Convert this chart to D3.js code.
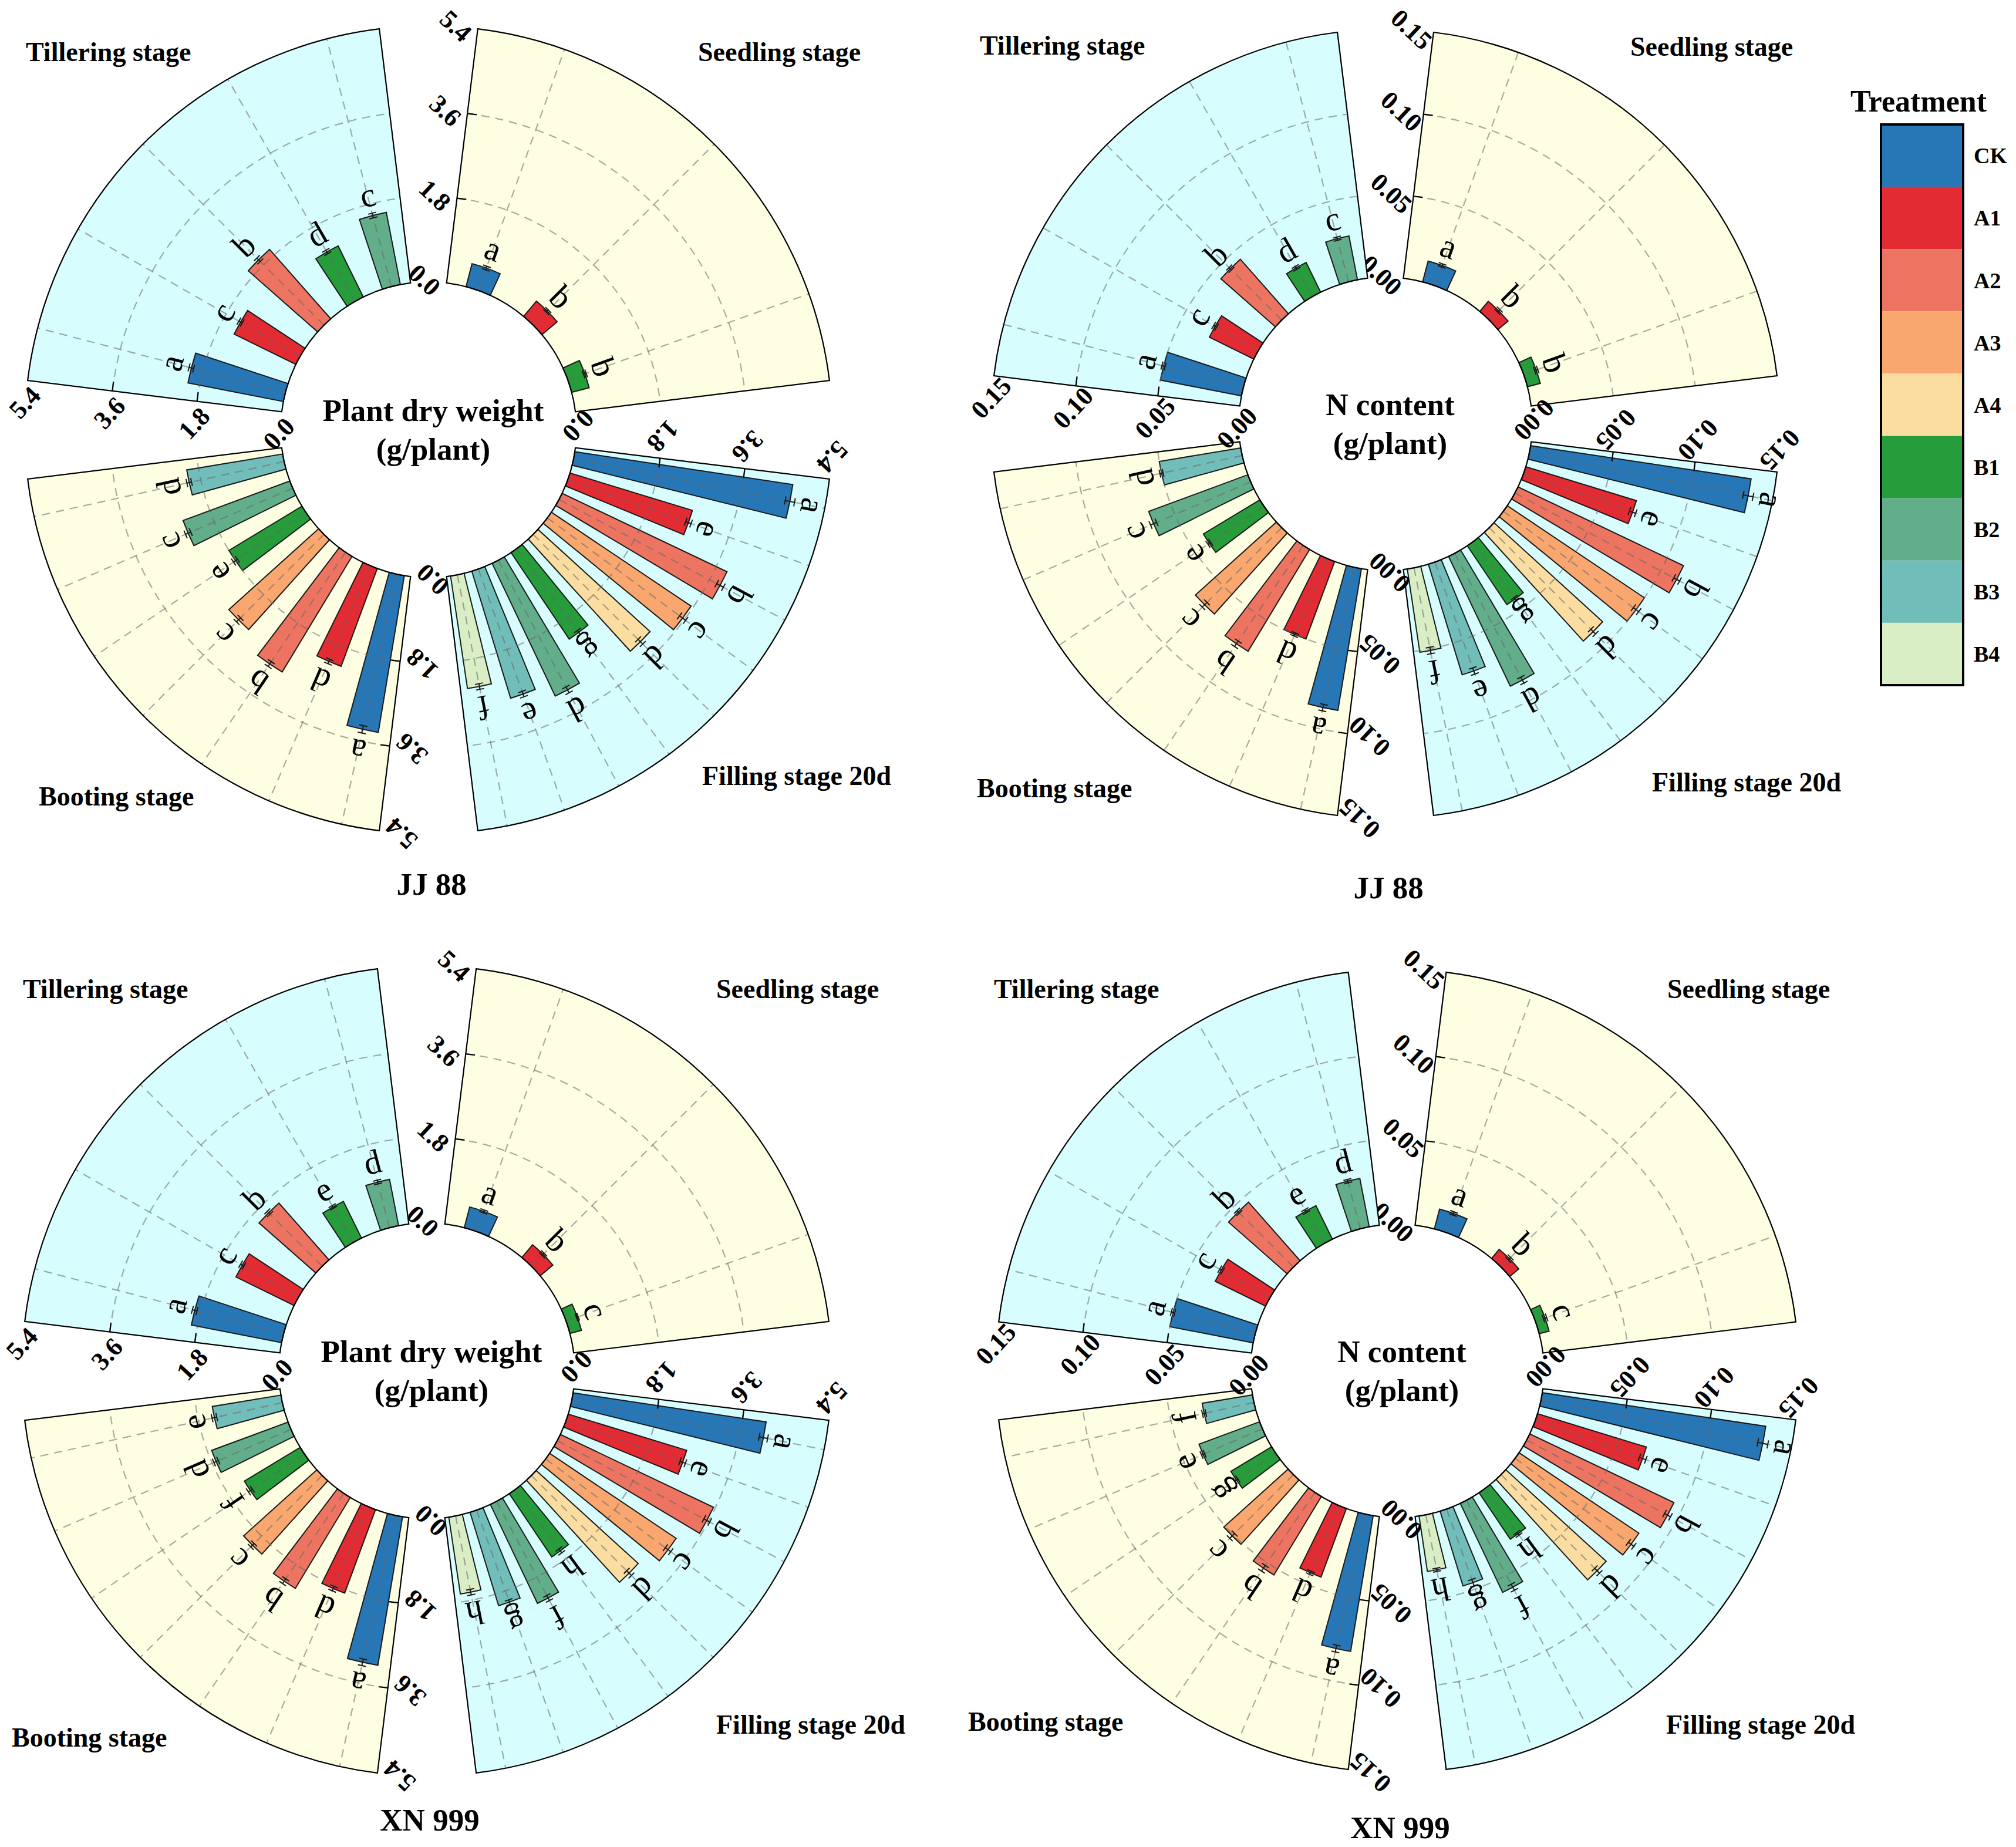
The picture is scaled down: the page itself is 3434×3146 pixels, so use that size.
<!DOCTYPE html>
<html lang="en">
<head>
  <meta charset="UTF-8" />
  <title>Plant dry weight and N content - polar bars</title>
  <script src="https://d3js.org/d3.v7.min.js"></script>
  <style>
    body {
      margin: 0;
      padding: 0;
      background-color: white;
    }

    svg {
      display: block;
      font-family: "Liberation Serif", "Times New Roman", serif;
    }

    .grid {
      fill: none;
      stroke: #666;
      stroke-opacity: 0.55;
      stroke-width: 2.2px;
      stroke-dasharray: 14 10;
    }

    .sector-outline {
      fill: none;
      stroke: black;
      stroke-width: 2.2px;
    }

    .bar {
      stroke: #1a1a1a;
      stroke-width: 2px;
    }

    .err {
      stroke: #1a1a1a;
      stroke-width: 2px;
    }

    .tick {
      stroke: black;
      stroke-width: 2.2px;
    }

    .tick-label {
      font-weight: bold;
      font-size: 44px;
      fill: black;
    }

    .sig {
      font-size: 58px;
      fill: black;
    }

    .stage-label {
      font-weight: bold;
      font-size: 46px;
      fill: black;
    }

    .center-label, .panel-title {
      font-weight: bold;
      font-size: 53px;
      fill: black;
    }

    .legend-title {
      font-weight: bold;
      font-size: 52px;
    }

    .legend-label {
      font-weight: bold;
      font-size: 38px;
    }
  </style>
</head>
<body>
  <svg id="chart" width="3434" height="3146"></svg>

  <script>
    // Treatments and their colours (legend order)
    const treatments = ["CK", "A1", "A2", "A3", "A4", "B1", "B2", "B3", "B4"];
    const treatColors = ["#2777B6", "#E22B33", "#ED7460", "#F9A66F", "#FCDDA1",
                         "#279C3A", "#62AD8A", "#71BDB9", "#D9EEC5"];

    // Stages, drawn clockwise from the top
    const stageNames = ["Seedling stage", "Filling stage 20d", "Booting stage", "Tillering stage"];
    const seedlingTreat  = ["CK", "A1", "B1"];
    const fillingTreat   = ["CK", "A1", "A2", "A3", "A4", "B1", "B2", "B3", "B4"];
    const bootingTreat   = ["CK", "A1", "A2", "A3", "B1", "B2", "B3"];
    const tilleringTreat = ["CK", "A1", "A2", "B1", "B2"];

    // Radial axis ticks
    const dwTicks = [0, 1.8, 3.6, 5.4];
    const nTicks = [0, 0.05, 0.10, 0.15];

    // ---- JJ 88, plant dry weight (g/plant)
    const jjDwSeedling  = [0.50, 0.42, 0.38];
    const jjDwFilling   = [4.65, 2.70, 3.85, 3.55, 3.20, 2.20, 3.10, 2.80, 2.40];
    const jjDwBooting   = [3.35, 2.20, 2.85, 2.55, 1.80, 2.40, 2.05];
    const jjDwTillering = [2.05, 1.45, 1.95, 1.20, 1.55];
    const jjDwSeedlingErr  = [0.04, 0.03, 0.03];
    const jjDwFillingErr   = [0.10, 0.06, 0.08, 0.08, 0.07, 0.05, 0.07, 0.06, 0.06];
    const jjDwBootingErr   = [0.08, 0.05, 0.06, 0.06, 0.05, 0.06, 0.05];
    const jjDwTilleringErr = [0.05, 0.04, 0.05, 0.04, 0.05];
    const jjDwSeedlingSig  = ["a", "b", "b"];
    const jjDwFillingSig   = ["a", "e", "b", "c", "d", "g", "d", "e", "f"];
    const jjDwBootingSig   = ["a", "d", "b", "c", "e", "c", "d"];
    const jjDwTilleringSig = ["a", "c", "b", "d", "c"];

    // ---- JJ 88, N content (g/plant)
    const jjNSeedling  = [0.013, 0.008, 0.008];
    const jjNFilling   = [0.135, 0.070, 0.111, 0.100, 0.089, 0.043, 0.087, 0.070, 0.051];
    const jjNBooting   = [0.087, 0.050, 0.072, 0.066, 0.040, 0.064, 0.050];
    const jjNTillering = [0.050, 0.030, 0.044, 0.020, 0.027];
    const jjNSeedlingErr  = [0.001, 0.001, 0.001];
    const jjNFillingErr   = [0.003, 0.002, 0.002, 0.002, 0.002, 0.001, 0.002, 0.002, 0.002];
    const jjNBootingErr   = [0.002, 0.001, 0.002, 0.002, 0.001, 0.002, 0.001];
    const jjNTilleringErr = [0.001, 0.001, 0.001, 0.001, 0.001];
    const jjNSeedlingSig  = ["a", "b", "b"];
    const jjNFillingSig   = ["a", "e", "b", "c", "d", "g", "d", "e", "f"];
    const jjNBootingSig   = ["a", "d", "b", "c", "e", "c", "d"];
    const jjNTilleringSig = ["a", "c", "b", "d", "c"];

    // ---- XN 999, plant dry weight (g/plant)
    const xnDwSeedling  = [0.45, 0.35, 0.25];
    const xnDwFilling   = [4.10, 2.60, 3.56, 3.20, 2.90, 1.60, 2.30, 2.05, 1.63];
    const xnDwBooting   = [3.16, 1.87, 2.23, 2.07, 1.37, 1.71, 1.46];
    const xnDwTillering = [1.93, 1.36, 1.59, 0.86, 0.99];
    const xnDwSeedlingErr  = [0.03, 0.03, 0.02];
    const xnDwFillingErr   = [0.09, 0.06, 0.07, 0.07, 0.07, 0.05, 0.06, 0.05, 0.06];
    const xnDwBootingErr   = [0.07, 0.05, 0.06, 0.05, 0.05, 0.05, 0.05];
    const xnDwTilleringErr = [0.05, 0.04, 0.04, 0.03, 0.04];
    const xnDwSeedlingSig  = ["a", "b", "c"];
    const xnDwFillingSig   = ["a", "e", "b", "c", "d", "h", "f", "g", "h"];
    const xnDwBootingSig   = ["a", "d", "b", "c", "f", "d", "e"];
    const xnDwTilleringSig = ["a", "c", "b", "e", "d"];

    // ---- XN 999, N content (g/plant)
    const xnNSeedling  = [0.012, 0.007, 0.006];
    const xnNFilling   = [0.133, 0.067, 0.094, 0.085, 0.080, 0.033, 0.058, 0.046, 0.033];
    const xnNBooting   = [0.081, 0.043, 0.054, 0.051, 0.028, 0.038, 0.030];
    const xnNTillering = [0.050, 0.033, 0.046, 0.022, 0.029];
    const xnNSeedlingErr  = [0.001, 0.001, 0.001];
    const xnNFillingErr   = [0.003, 0.002, 0.002, 0.002, 0.002, 0.001, 0.002, 0.002, 0.001];
    const xnNBootingErr   = [0.002, 0.001, 0.002, 0.002, 0.001, 0.001, 0.001];
    const xnNTilleringErr = [0.001, 0.001, 0.001, 0.001, 0.001];
    const xnNSeedlingSig  = ["a", "b", "c"];
    const xnNFillingSig   = ["a", "e", "b", "c", "d", "h", "f", "g", "h"];
    const xnNBootingSig   = ["a", "d", "b", "c", "g", "e", "f"];
    const xnNTilleringSig = ["a", "c", "b", "e", "d"];

    const svg = d3.select("#chart");
    const color = d3.scaleOrdinal().domain(treatments).range(treatColors);

    // sector layout (compass degrees, clockwise from 12 o'clock)
    const stageStart = [7, 97, 187, 277];
    const stageSpan = 76;
    const stageFill = ["#FEFEE3", "#D7FDFE", "#FEFEE3", "#D7FDFE"];
    const stageTreat = [seedlingTreat, fillingTreat, bootingTreat, tilleringTreat];
    const rad = d => d * Math.PI / 180;

    const panels = [
      { cx: 730, cy: 732, r0: 252, r1: 688, max: 5.4, ticks: dwTicks, fmt: ".1f",
        center: ["Plant dry weight", "(g/plant)"], title: "JJ 88", titleY: 1505,
        values: [jjDwSeedling, jjDwFilling, jjDwBooting, jjDwTillering],
        errs: [jjDwSeedlingErr, jjDwFillingErr, jjDwBootingErr, jjDwTilleringErr],
        sigs: [jjDwSeedlingSig, jjDwFillingSig, jjDwBootingSig, jjDwTilleringSig],
        labels: [[1189, 88], [1196, 1321], [66, 1356], [44, 88]] },
      { cx: 2360, cy: 722, r0: 250, r1: 672, max: 0.15, ticks: nTicks, fmt: ".2f",
        center: ["N content", "(g/plant)"], title: "JJ 88", titleY: 1511,
        values: [jjNSeedling, jjNFilling, jjNBooting, jjNTillering],
        errs: [jjNSeedlingErr, jjNFillingErr, jjNBootingErr, jjNTilleringErr],
        sigs: [jjNSeedlingSig, jjNFillingSig, jjNBootingSig, jjNTilleringSig],
        labels: [[2777, 79], [2814, 1332], [1664, 1342], [1669, 77]] },
      { cx: 727, cy: 2335, r0: 252, r1: 690, max: 5.4, ticks: dwTicks, fmt: ".1f",
        center: ["Plant dry weight", "(g/plant)"], title: "XN 999", titleY: 3099,
        values: [xnDwSeedling, xnDwFilling, xnDwBooting, xnDwTillering],
        errs: [xnDwSeedlingErr, xnDwFillingErr, xnDwBootingErr, xnDwTilleringErr],
        sigs: [xnDwSeedlingSig, xnDwFillingSig, xnDwBootingSig, xnDwTilleringSig],
        labels: [[1220, 1684], [1220, 2937], [20, 2959], [39, 1684]] },
      { cx: 2380, cy: 2335, r0: 250, r1: 684, max: 0.15, ticks: nTicks, fmt: ".2f",
        center: ["N content", "(g/plant)"], title: "XN 999", titleY: 3112,
        values: [xnNSeedling, xnNFilling, xnNBooting, xnNTillering],
        errs: [xnNSeedlingErr, xnNFillingErr, xnNBootingErr, xnNTilleringErr],
        sigs: [xnNSeedlingSig, xnNFillingSig, xnNBootingSig, xnNTilleringSig],
        labels: [[2840, 1684], [2838, 2937], [1649, 2932], [1693, 1684]] }
    ];

    function polar(angle, r) {
      return [r * Math.sin(angle), -r * Math.cos(angle)];
    }

    // single open arc (no return stroke), compass angles
    function arcLine(rr, a0, a1) {
      const path = d3.path();
      const [x0, y0] = polar(a0, rr);
      path.moveTo(x0, y0);
      path.arc(0, 0, rr, a0 - Math.PI / 2, a1 - Math.PI / 2);
      return path.toString();
    }

    function drawPanel(p) {
      const g = svg.append("g").attr("transform", `translate(${p.cx},${p.cy})`);
      const r = d3.scaleLinear().domain([0, p.max]).range([p.r0, p.r1]);
      const fmt = d3.format(p.fmt);
      const arc = d3.arc();

      stageNames.forEach((name, si) => {
        const a0 = rad(stageStart[si]);
        const a1 = rad(stageStart[si] + stageSpan);
        const treat = stageTreat[si];
        const rows = treat.map((t, i) => ({
          t, v: p.values[si][i], e: p.errs[si][i], sig: p.sigs[si][i]
        }));
        const band = d3.scaleBand().domain(treat).range([a0, a1]);
        const half = rad(3 + 21 / treat.length) / 2;
        const mid = t => band(t) + band.bandwidth() / 2;
        const sg = g.append("g").attr("class", "stage");

        // sector background
        sg.append("path")
          .attr("d", arc({ innerRadius: p.r0, outerRadius: p.r1, startAngle: a0, endAngle: a1 }))
          .attr("fill", stageFill[si]);

        // bars
        sg.selectAll(".bar")
          .data(rows)
          .join("path")
          .attr("class", "bar")
          .attr("fill", d => color(d.t))
          .attr("d", d => arc({
            innerRadius: p.r0, outerRadius: r(d.v),
            startAngle: mid(d.t) - half, endAngle: mid(d.t) + half
          }));

        // dashed grid: arcs at the inner ticks, radial lines at each treatment
        sg.selectAll(".grid-arc")
          .data(p.ticks.slice(1, -1))
          .join("path")
          .attr("class", "grid")
          .attr("d", v => arcLine(r(v), a0, a1));

        sg.selectAll(".grid-spoke")
          .data(treat)
          .join("line")
          .attr("class", "grid")
          .attr("x1", t => polar(mid(t), p.r0)[0])
          .attr("y1", t => polar(mid(t), p.r0)[1])
          .attr("x2", t => polar(mid(t), p.r1)[0])
          .attr("y2", t => polar(mid(t), p.r1)[1]);

        // sector outline
        sg.append("path")
          .attr("class", "sector-outline")
          .attr("d", arc({ innerRadius: p.r0, outerRadius: p.r1, startAngle: a0, endAngle: a1 }));

        // radial axis on the start edge
        const inward = [Math.cos(a0), Math.sin(a0)];
        const outward = [-Math.cos(a0), -Math.sin(a0)];
        sg.selectAll(".tick")
          .data(p.ticks.slice(1, -1))
          .join("line")
          .attr("class", "tick")
          .attr("x1", v => polar(a0, r(v))[0])
          .attr("y1", v => polar(a0, r(v))[1])
          .attr("x2", v => polar(a0, r(v))[0] + 16 * inward[0])
          .attr("y2", v => polar(a0, r(v))[1] + 16 * inward[1]);

        sg.selectAll(".tick-label")
          .data(p.ticks)
          .join("text")
          .attr("class", "tick-label")
          .attr("text-anchor", "middle")
          .attr("dominant-baseline", "central")
          .attr("transform", v => {
            const [x, y] = polar(a0, r(v));
            return `translate(${x + 38 * outward[0]},${y + 38 * outward[1]}) rotate(${stageStart[si] + 36})`;
          })
          .text(v => fmt(v));

        // error bars and significance letters, in each bar's own frame
        const eg = sg.selectAll(".bar-end")
          .data(rows)
          .join("g")
          .attr("transform", d => `rotate(${mid(d.t) * 180 / Math.PI})`);

        eg.append("line")
          .attr("class", "err")
          .attr("x1", 0).attr("x2", 0)
          .attr("y1", d => -r(d.v - d.e))
          .attr("y2", d => -r(d.v + d.e));

        eg.selectAll(".cap")
          .data(d => [d.v - d.e, d.v + d.e])
          .join("line")
          .attr("class", "err")
          .attr("x1", -7).attr("x2", 7)
          .attr("y1", v => -r(v))
          .attr("y2", v => -r(v));

        eg.append("text")
          .attr("class", "sig")
          .attr("text-anchor", "middle")
          .attr("x", 0)
          .attr("y", d => -(r(d.v + d.e) + 12))
          .text(d => d.sig);

        // stage name
        svg.append("text")
          .attr("class", "stage-label")
          .attr("x", p.labels[si][0])
          .attr("y", p.labels[si][1])
          .attr("dy", "0.35em")
          .text(name);
      });

      // centre label
      g.selectAll(".center-label")
        .data(p.center)
        .join("text")
        .attr("class", "center-label")
        .attr("text-anchor", "middle")
        .attr("dominant-baseline", "central")
        .attr("x", 8)
        .attr("y", (d, i) => (i - 0.5) * 66)
        .text(d => d);

      svg.append("text")
        .attr("class", "panel-title")
        .attr("text-anchor", "middle")
        .attr("x", p.cx + 5)
        .attr("y", p.titleY)
        .attr("dy", "0.35em")
        .text(p.title);
    }

    panels.forEach(drawPanel);

    // Legend
    const legend = svg.append("g");
    const ly = d3.scaleBand().domain(treatments).range([212, 1167]);

    legend.append("text")
      .attr("class", "legend-title")
      .attr("x", 3268)
      .attr("y", 172)
      .attr("dy", "0.35em")
      .attr("text-anchor", "middle")
      .text("Treatment");

    legend.selectAll(".legend-cell")
      .data(treatments)
      .join("rect")
      .attr("x", 3204)
      .attr("y", d => ly(d))
      .attr("width", 140)
      .attr("height", ly.bandwidth())
      .attr("fill", d => color(d));

    legend.append("rect")
      .attr("x", 3204)
      .attr("y", 212)
      .attr("width", 140)
      .attr("height", 955)
      .attr("fill", "none")
      .attr("stroke", "black")
      .attr("stroke-width", 4);

    legend.selectAll(".legend-label")
      .data(treatments)
      .join("text")
      .attr("class", "legend-label")
      .attr("x", 3362)
      .attr("y", d => ly(d) + ly.bandwidth() / 2)
      .attr("dy", "0.35em")
      .text(d => d);
  </script>
</body>
</html>
